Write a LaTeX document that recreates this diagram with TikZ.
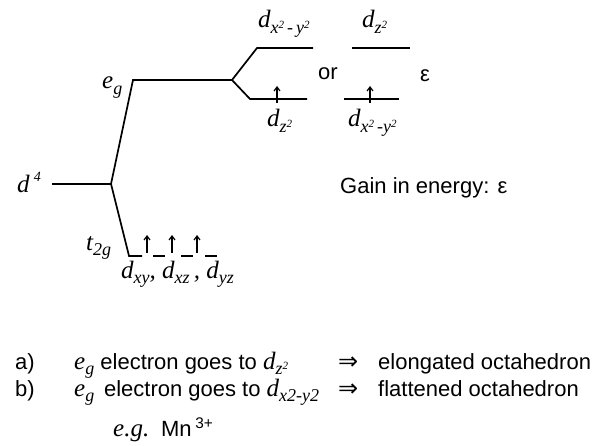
\documentclass[tikz,border=0pt]{standalone}
\usepackage{fontspec}
\setmainfont{Liberation Serif}
\setsansfont{Liberation Sans}
\newfontfamily\symfont{DejaVu Sans}
\usetikzlibrary{arrows.meta}
\newcommand\Lsub[1]{\raisebox{-0.22em}{\fontsize{18}{20}\selectfont #1}}
\newcommand\Lsq{\raisebox{0.3em}{\fontsize{11}{12}\selectfont 2}}
\newcommand\rit[1]{{\rmfamily\itshape\fontsize{25}{28}\selectfont #1}}
\begin{document}
\begin{tikzpicture}[x=1pt,y=-1pt,
  conn/.style={line width=1.7pt, line join=miter},
  lvl/.style={line width=1.5pt},
  spin/.style={line width=1.2pt, -{Straight Barb[length=4pt,width=6pt]}},
  lab/.style={font=\fontsize{25}{28}\selectfont\rmfamily\itshape, inner sep=0pt, anchor=base west},
  txt/.style={font=\fontsize{22}{26}\selectfont\sffamily, inner sep=0pt, anchor=base west},
  imp/.style={font=\fontsize{24}{26}\selectfont\symfont, inner sep=0pt, anchor=base west}]
\useasboundingbox (0,0) rectangle (604,446);
% level coordinates
\coordinate (d4L) at (52,184);
\coordinate (split) at (111,184);
\coordinate (egL) at (133,80);
\coordinate (egR) at (232,80);
\coordinate (upL) at (257,48);
\coordinate (upR) at (313,48);
\coordinate (loL) at (250,99);
\coordinate (loR) at (307,99);
\coordinate (t2c) at (129,256);
\coordinate (t2e) at (142,256);
\coordinate (ruL) at (352,48);
\coordinate (ruR) at (410,48);
\coordinate (rlL) at (344,99);
\coordinate (rlR) at (399,99);
% correlation lines
\draw[conn] (d4L) -- (split) -- (egL) -- (egR) -- (upL) -- (upR);
\draw[conn] (egR) -- (loL) -- (loR);
\draw[conn] (split) -- (t2c) -- (t2e);
% right levels
\draw[lvl] (ruL) -- (ruR);
\draw[lvl] (rlL) -- (rlR);
% t2g underscores
\draw[lvl] (153,256) -- (165,256);
\draw[lvl] (181,256) -- (193,256);
\draw[lvl] (205,256) -- (217,256);
% spins
\draw[spin] (147,253) -- ++(0,-18);
\draw[spin] (172,253) -- ++(0,-18);
\draw[spin] (197,253) -- ++(0,-18);
\draw[spin] (277,103) -- ++(0,-17);
\draw[spin] (370,103) -- ++(0,-17);
% labels
\node[lab] (ld4) at (17,193) {d\,\raisebox{0.45em}{\fontsize{14}{16}\selectfont 4}};
\node[lab] (leg) at (102,89) {e\Lsub{g}};
\node[lab] (lt2g) at (86,250) {t\Lsub{2g}};
\node[lab] (lt2o) at (121,278) {d\Lsub{xy}, d\Lsub{xz}\,, d\Lsub{yz}};
\node[lab] (lux) at (258,28) {d\Lsub{x\Lsq\,-\,y\Lsq}};
\node[lab] (luz) at (362,28) {d\Lsub{z\Lsq}};
\node[lab] (llz) at (267,127) {d\Lsub{z\Lsq}};
\node[lab] (llx) at (348,127) {d\Lsub{x\Lsq\,-y\Lsq}};
\node[txt] (lor) at (318,80) {or};
\node[txt] (leps) at (420,82) {ε};
\node[txt] (lgain) at (340,194) {Gain in energy: ε};
% bottom rows
\node[txt] (ra) at (15,369) {a)};
\node[txt] (ta) at (74,369) {\rit{e\Lsub{g}} electron goes to \rit{d\Lsub{z\Lsq}}};
\node[imp] (ia) at (338,369) {⇒};
\node[txt] (sa) at (378,369) {elongated octahedron};
\node[txt] (rb) at (15,396) {b)};
\node[txt] (tb) at (74,396) {\rit{e\Lsub{g}}\, electron goes to \rit{d\Lsub{x2-y2}}};
\node[imp] (ib) at (338,396) {⇒};
\node[txt] (sb) at (378,396) {flattened octahedron};
\node[txt] (eg) at (113,436) {\rit{e.g.}\, Mn\,\textsuperscript{3+}};
\end{tikzpicture}
\end{document}
